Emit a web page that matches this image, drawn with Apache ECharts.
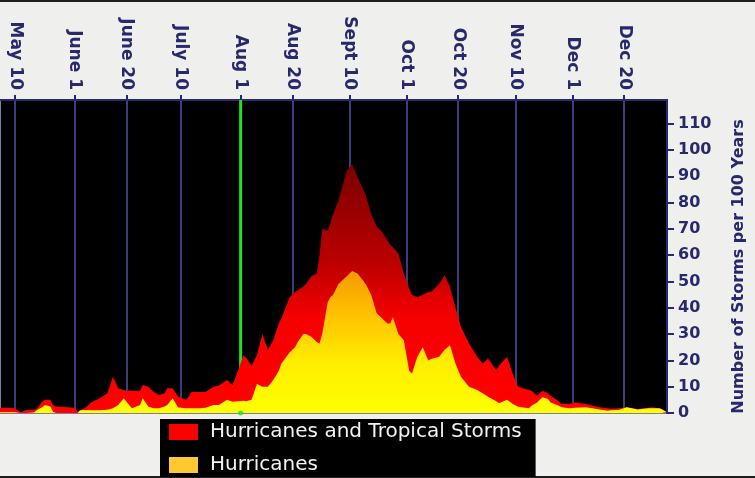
<!DOCTYPE html>
<html>
<head>
<meta charset="utf-8">
<script src="https://cdn.jsdelivr.net/npm/echarts@6/dist/echarts.min.js"></script>
<style>
  html, body { margin: 0; padding: 0; background: #efefed; }
  #chart { width: 755px; height: 478px; }
</style>
</head>
<body>
<div id="chart"></div>
<script>
// day of year for the labelled dates along the top
var tickDays = [130, 152, 171, 191, 213, 232, 253, 274, 293, 314, 335, 354];
var tickLabels = ['May 10', 'June 1', 'June 20', 'July 10', 'Aug 1', 'Aug 20',
  'Sept 10', 'Oct 1', 'Oct 20', 'Nov 10', 'Dec 1', 'Dec 20'];
var yTicks = [0, 10, 20, 30, 40, 50, 60, 70, 80, 90, 100, 110];
var peakStart = 213; // Aug 1 marker

// storms per 100 years
var days = [124, 127, 130, 132, 134, 137, 138, 140, 141, 143, 144, 145, 148, 152, 153, 154,
  156, 158, 161, 164, 166, 168, 170, 171, 173, 176, 177, 179, 181, 183, 185, 186,
  188, 190, 193, 195, 198, 200, 203, 205, 208, 210, 212, 214, 215, 217, 219, 221,
  223, 225, 227, 228, 231, 233, 234, 236, 237, 239, 241, 242, 243, 245, 246, 247,
  249, 252, 254, 256, 259, 261, 263, 265, 267, 268, 269, 271, 273, 275, 276, 278,
  280, 282, 283, 286, 288, 290, 292, 294, 297, 300, 302, 304, 307, 308, 311, 313,
  315, 319, 320, 322, 324, 326, 327, 330, 331, 334, 336, 340, 345, 348, 349, 352,
  355, 359, 363, 364, 367, 368, 369.5];
var allStorms = [2, 2, 1.8, 0.3, 1.1, 1.2, 1.5, 4.3, 5, 5, 3, 2.5, 2.3, 2, 0.5, 1,
  2, 4, 5.5, 7.5, 13.8, 9.4, 8.7, 8.5, 8.5, 8.5, 10.6, 10, 8, 6.8, 7.5, 9.4,
  9.4, 6.2, 5, 8, 8, 8, 10, 10.5, 12.5, 10.6, 16, 22, 21, 18, 22, 30,
  24, 27.7, 34, 36, 44, 46, 46.7, 48, 49, 52, 53, 60, 70, 69.4, 72, 75.7,
  80.8, 92, 94.7, 89.7, 83, 75.7, 71, 68.8, 65.6, 64, 63, 60.6, 53, 47.3, 45, 44,
  45, 46, 46, 49, 52.4, 48, 40, 32.8, 26.4, 21.4, 18.8, 20.7, 16.3, 18, 21.4, 15,
  10, 8.7, 8.5, 6.6, 8.5, 7.5, 6.6, 4.5, 3.4, 3.5, 4, 3.4, 2.2, 1.8, 1.5, 1.8,
  2.2, 1.5, 2, 2.2, 1.8, 1.5, 0.5];
var hurricanes = [0.3, 0.3, 0.3, 0, 0, 0.2, 1, 2.2, 3, 2.5, 0.5, 0, 0, 0, 0, 1,
  1.1, 1, 1, 1.2, 1.8, 3, 5.6, 4.3, 1.8, 3, 5.6, 2.5, 1.8, 1.8, 2.5, 3,
  5.6, 2.1, 1.8, 1.8, 1.8, 2, 3, 3, 5, 4.3, 4.5, 4.7, 4.5, 5, 11, 10,
  10, 12.5, 16, 18.8, 23, 25, 27, 30, 30, 29, 27, 26.4, 30, 42, 44, 45,
  49, 52, 54, 53, 49, 45, 38, 36, 34, 34, 36.5, 30, 27.7, 16, 15, 21.4,
  25, 20, 20.5, 21.4, 24, 25.8, 18.8, 13.8, 10, 8.7, 7.5, 6.2, 4.5, 3.7, 5, 3.5,
  2.4, 1.8, 2.8, 4, 6, 5.3, 4, 2.8, 2.2, 1.8, 2, 2.2, 1.3, 0.9, 1, 1.1,
  2.2, 1.3, 1.8, 1.8, 1.8, 1.3, 0.5];

var navy = '#28286c';
var chart = echarts.init(document.getElementById('chart'));

function pairs(vals) {
  return days.map(function (d, i) { return [d, vals[i]]; });
}

var option = {
  animation: false,
  backgroundColor: '#efefed',
  graphic: [
    { type: 'rect', left: 0, top: 0, shape: { width: 755, height: 2 }, style: { fill: '#1e1e1e' } },
    { type: 'rect', left: 0, top: 476, shape: { width: 755, height: 2 }, style: { fill: '#1e1e1e' } }
  ],
  grid: {
    left: 0, right: 87, top: 100, bottom: 65,
    show: true, backgroundColor: '#000000',
    borderColor: '#7c7cb4', borderWidth: 2
  },
  legend: {
    orient: 'vertical',
    left: 160, bottom: 1,
    backgroundColor: '#000000',
    padding: [3, 14, 2, 9],
    itemWidth: 29, itemHeight: 16, itemGap: 13,
    icon: 'rect',
    selectedMode: false,
    textStyle: { color: '#f2f2f2', fontSize: 20, fontFamily: 'DejaVu Sans', lineHeight: 16, padding: [0, 0, 0, 7] },
    data: [
      { name: 'Hurricanes and Tropical Storms', itemStyle: { color: '#ff0000' } },
      { name: 'Hurricanes', itemStyle: { color: '#fec830' } }
    ]
  },
  xAxis: {
    type: 'value',
    position: 'top',
    min: 124.5, max: 369.8,
    axisLine: { show: true, onZero: false, lineStyle: { color: navy, width: 2 } },
    axisTick: { show: true, customValues: tickDays, length: 5, lineStyle: { color: navy, width: 2 } },
    axisLabel: {
      customValues: tickDays,
      rotate: 90,
      margin: 10,
      color: navy,
      fontFamily: 'DejaVu Sans', fontWeight: 'bold', fontSize: 17,
      formatter: function (v) { return tickLabels[tickDays.indexOf(v)]; }
    },
    splitLine: { show: true, lineStyle: { color: '#3c3c7c', width: 2 } }
  },
  yAxis: {
    type: 'value',
    position: 'right',
    min: 0, max: 119,
    name: 'Number of Storms per 100 Years',
    nameLocation: 'middle',
    nameRotate: 90,
    nameGap: 64,
    nameTextStyle: { color: navy, fontFamily: 'DejaVu Sans', fontWeight: 'bold', fontSize: 16, padding: [0, 20, 0, 0] },
    axisLine: { show: true, lineStyle: { color: navy, width: 2 } },
    axisTick: { show: true, customValues: yTicks, length: 7, lineStyle: { color: navy, width: 2 } },
    axisLabel: { customValues: yTicks, margin: 11, color: navy, fontFamily: 'DejaVu Sans', fontWeight: 'bold', fontSize: 16 },
    splitLine: { show: false }
  },
  series: [
    {
      type: 'line',
      name: 'marker',
      silent: true,
      z: 1,
      symbol: 'none',
      data: [[peakStart, 0], [peakStart, 119]],
      lineStyle: { color: '#22e022', width: 3 }
    },
    {
      type: 'line',
      name: 'Hurricanes and Tropical Storms',
      z: 2,
      symbol: 'none',
      data: pairs(allStorms),
      lineStyle: { width: 0 },
      itemStyle: { color: '#ff0000' },
      areaStyle: {
        opacity: 1,
        color: new echarts.graphic.LinearGradient(0, 0, 0, 1, [
          { offset: 0, color: '#7a0000' },
          { offset: 0.4, color: '#bc0000' },
          { offset: 0.62, color: '#f60000' },
          { offset: 1, color: '#ff0000' }
        ])
      }
    },
    {
      type: 'line',
      name: 'Hurricanes',
      z: 3,
      symbol: 'none',
      data: pairs(hurricanes),
      lineStyle: { width: 0 },
      itemStyle: { color: '#fec830' },
      areaStyle: {
        opacity: 1,
        color: new echarts.graphic.LinearGradient(0, 0, 0, 1, [
          { offset: 0, color: '#f59a00' },
          { offset: 0.3, color: '#ffc000' },
          { offset: 0.65, color: '#ffee00' },
          { offset: 1, color: '#ffff00' }
        ])
      }
    },
    {
      type: 'scatter',
      name: 'marker dot',
      silent: true,
      z: 5,
      symbolSize: 5,
      itemStyle: { color: '#22e022' },
      data: [[peakStart, 0]]
    }
  ]
};

chart.setOption(option);
</script>
</body>
</html>
